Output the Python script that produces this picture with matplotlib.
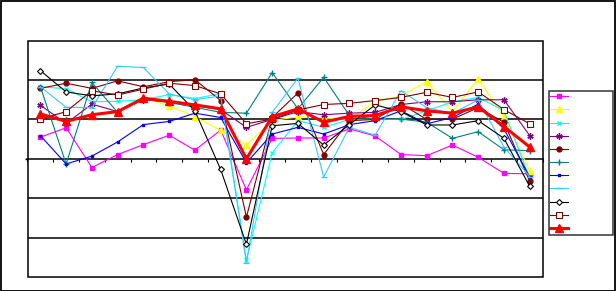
import matplotlib
matplotlib.use("Agg")
import matplotlib.pyplot as plt
from matplotlib.patches import Rectangle
import numpy as np

categories = list(range(1, 21))

s_magenta = [0.55, 0.79, -0.22, 0.11, 0.36, 0.60, 0.22, 0.73, -0.79, 0.52, 0.53, 0.53, 0.76, 0.58, 0.11, 0.08, 0.35, 0.04, -0.37, -0.38]
s_yellow = [1.10, 0.95, 1.10, 1.20, 1.55, 1.35, 1.07, 0.72, 0.35, 0.97, 1.07, 1.04, 1.00, 1.45, 1.60, 1.96, 1.20, 2.03, 1.05, -0.30]
s_cyan = [1.83, 1.78, 1.45, 1.46, 1.50, 1.63, 1.53, 1.66, -2.58, 0.15, 0.97, 0.80, 1.00, 1.00, 1.00, 1.22, 1.45, 1.56, 1.22, -0.50]
s_purple = [1.36, 0.90, 1.39, 1.20, 1.50, 1.45, 1.35, 1.25, 0.80, 1.00, 1.20, 1.12, 1.16, 1.18, 1.38, 1.45, 1.45, 1.50, 1.50, 0.59]
s_darkred = [1.79, 1.92, 1.79, 1.98, 1.83, 1.96, 2.01, 1.48, -1.48, 1.05, 1.67, 0.11, 0.97, 1.00, 1.40, 1.00, 1.01, 1.30, 0.93, -0.57]
s_teal = [1.83, -0.13, 1.94, 1.18, 1.52, 1.43, 1.31, 1.18, 1.16, 2.19, 1.27, 2.07, 1.10, 1.01, 1.01, 0.93, 0.52, 0.69, 0.23, 0.21]
s_blue = [0.59, -0.13, 0.07, 0.43, 0.87, 0.95, 1.16, 1.05, -0.10, 0.63, 0.80, 0.63, 0.87, 0.97, 1.22, 0.89, 1.05, 1.39, 0.76, -0.46]
s_sky = [1.83, 1.31, 1.30, 2.35, 2.32, 1.65, 1.50, 1.60, -2.64, 1.18, 2.05, -0.46, 0.80, 0.60, 1.73, 1.30, 1.15, 1.50, 0.30, -0.45]
s_black = [2.24, 1.70, 1.60, 1.65, 1.80, 1.90, 1.22, -0.27, -2.17, 0.84, 0.90, 0.35, 0.87, 1.37, 1.20, 0.86, 0.86, 0.97, 0.52, -0.70]
s_brownsq = [1.01, 1.20, 1.73, 1.62, 1.77, 1.92, 1.86, 1.65, 0.89, 1.01, 1.24, 1.38, 1.41, 1.48, 1.56, 1.69, 1.56, 1.70, 1.25, 0.89]
s_red = [1.14, 0.95, 1.12, 1.20, 1.54, 1.46, 1.37, 1.27, 0.00, 1.07, 1.27, 0.93, 1.08, 1.10, 1.32, 1.22, 1.16, 1.32, 0.82, 0.30]

series = [
    (s_magenta, dict(color="#FF00FF", marker="s", ms=3.2, mfc="#FF00FF", mec="#FF00FF", lw=0.8)),
    (s_yellow, dict(color="#FFFF00", marker="^", ms=4, mfc="#FFFF00", mec="#FFFF00", lw=0.8)),
    (s_cyan, dict(color="#00FFFF", marker="x", ms=3.5, mew=1, lw=0.8)),
    (s_purple, dict(color="#800080", marker=(6, 2, 0), ms=4.5, mew=1, lw=0.8)),
    (s_darkred, dict(color="#800000", marker="o", ms=3.5, mfc="#800000", mec="#800000", lw=0.8)),
    (s_teal, dict(color="#008080", marker="+", ms=5, mew=1, lw=0.8)),
    (s_blue, dict(color="#0000FF", marker="s", ms=2, mfc="#0000FF", mec="#0000FF", lw=0.8)),
    (s_sky, dict(color="#33CCFF", marker="_", ms=5, mew=1, lw=0.8)),
    (s_black, dict(color="#000000", marker="D", ms=3, mfc="white", mec="#000000", mew=0.8, lw=0.8)),
    (s_brownsq, dict(color="#800000", marker="s", ms=4, mfc="white", mec="#800000", mew=0.8, lw=0.8)),
    (s_red, dict(color="#FF0000", marker="^", ms=5.8, mfc="#FF0000", mec="#FF0000", lw=2.2)),
]

W, H = 616, 291
fig = plt.figure(figsize=(W / 100, H / 100), dpi=100)
fig.patch.set_facecolor("white")

left, right, top, bottom = 27.5, 542.6, 40.7, 277.0
ax = fig.add_axes([left / W, 1 - bottom / H, (right - left) / W, (bottom - top) / H])

x = np.arange(len(categories))
handles = []
for vals, st in series:
    ln, = ax.plot(x, vals, **st)
    handles.append(ln)

ax.set_xlim(-0.5, len(categories) - 0.5)
ax.set_ylim(-3, 3)
for g in [-2, -1, 1, 2]:
    ax.axhline(g, color="black", lw=1.1, zorder=0.5)

# x axis at zero with category-boundary ticks
ax.spines["bottom"].set_position(("data", 0))
ax.spines["bottom"].set_linewidth(1.1)
ax.spines["bottom"].set_zorder(0.6)
for s in ["top", "right", "left"]:
    ax.spines[s].set_visible(False)
ax.add_patch(Rectangle((0, 0), 1, 1, transform=ax.transAxes, fill=False,
                       lw=1.1, ec="black", clip_on=False, zorder=3))
ax.set_xticks(np.arange(-0.5, len(categories) - 0.4, 1.0))
ax.tick_params(axis="x", direction="out", length=2.5, width=0.8, labelbottom=False)
ax.set_yticks([0])
ax.tick_params(axis="y", direction="out", length=2.5, width=1.0, labelleft=False)

leg = fig.legend(handles, [" "] * len(handles),
                 bbox_to_anchor=(549 / W, 1 - 233 / H, 64 / W, 142 / H),
                 loc="upper left", mode="expand", fontsize=7,
                 handlelength=1.9, handleheight=1.32, labelspacing=0.25,
                 borderpad=0.1, borderaxespad=0, handletextpad=0.3,
                 frameon=True, fancybox=False)
leg.get_frame().set_edgecolor("black")
leg.get_frame().set_linewidth(1.1)

fig.add_artist(Rectangle((0.5 / W, 0.5 / H), 1 - 1.5 / W, 1 - 1.5 / H,
                         transform=fig.transFigure, fill=False, lw=1.3, ec="black"))

fig.savefig("out.png", dpi=100, facecolor="white")
